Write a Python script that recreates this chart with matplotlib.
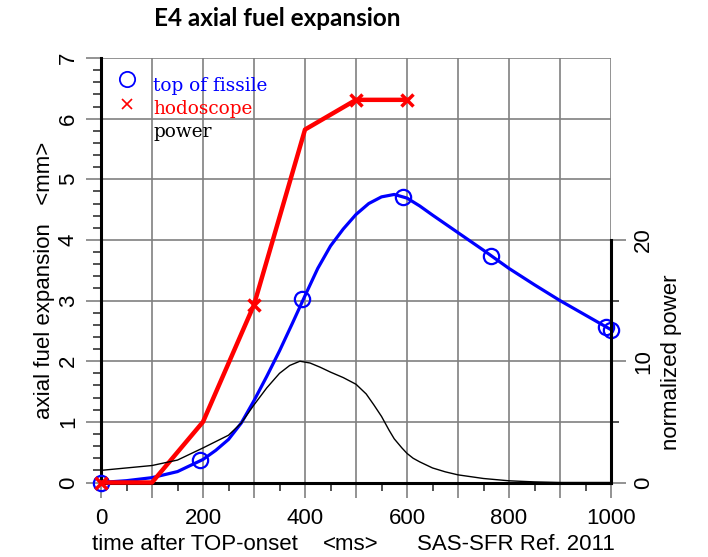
import numpy as np
import matplotlib
matplotlib.use("Agg")
import matplotlib.pyplot as plt
from matplotlib.ticker import MultipleLocator

# top of fissile: calculated curve (time in ms, expansion in mm)
fis_t = [0, 50, 100, 150, 200, 225, 250, 275, 300, 325, 350, 375, 400, 425,
         450, 475, 500, 525, 550, 575, 600, 625, 650, 700, 750, 800, 850,
         900, 950, 1000]
fis_y = [0.0, 0.03, 0.08, 0.18, 0.38, 0.53, 0.71, 0.98, 1.35, 1.75, 2.17,
         2.62, 3.08, 3.53, 3.9, 4.18, 4.42, 4.6, 4.71, 4.75, 4.69, 4.56,
         4.41, 4.12, 3.83, 3.53, 3.26, 3.0, 2.76, 2.52]
# circle markers on the fissile curve
fis_mark_t = [0, 195, 395, 593, 765, 990, 1000]
fis_mark_y = [0.0, 0.37, 3.03, 4.70, 3.74, 2.57, 2.52]

# hodoscope measurement
hodo_t = [0, 100, 200, 300, 400, 500, 600]
hodo_y = [0.0, 0.0, 1.0, 2.93, 5.82, 6.31, 6.31]
hodo_marks = [0, 3, 5, 6]

# normalized power
pow_t = [0, 50, 100, 150, 200, 250, 275, 300, 325, 350, 370, 390, 410, 430,
         450, 475, 500, 520, 535, 550, 565, 575, 590, 600, 612, 625, 650,
         675, 700, 750, 800, 850, 900, 1000]
pow_y = [1.0, 1.2, 1.4, 1.85, 2.85, 3.9, 4.9, 6.4, 7.8, 9.0, 9.65, 10.0,
         9.85, 9.5, 9.1, 8.65, 8.1, 7.3, 6.4, 5.45, 4.3, 3.6, 2.85, 2.4,
         2.0, 1.7, 1.2, 0.88, 0.63, 0.33, 0.14, 0.05, 0.0, 0.0]

fig = plt.figure(figsize=(7.08, 5.57), dpi=100)
ax = fig.add_axes([101 / 708, 1 - 482.5 / 557, 510 / 708, 424.5 / 557])
ax2 = ax.twinx()

sans = "Liberation Sans"
grid_c = "#808080"

# left axis: expansion in mm
ax.set_xlim(0, 1000)
ax.set_ylim(0, 7)
xt = list(range(0, 1001, 100))
ax.set_xticks(xt, labels=[str(t) if t % 200 == 0 else "" for t in xt])
ax.xaxis.set_minor_locator(MultipleLocator(50))
ax.yaxis.set_major_locator(MultipleLocator(1))
ax.yaxis.set_minor_locator(MultipleLocator(0.2))
ax.grid(True, which="major", color=grid_c, lw=1.2)

ax.tick_params(which="major", direction="out", length=11, width=1.2,
               color=grid_c, labelsize=16, pad=5)
ax.tick_params(which="minor", direction="out", length=6, width=1.2,
               color="#333333")
ax.tick_params(axis="x", which="major", pad=7)
ax.tick_params(axis="y", labelrotation=90)
for lbl in ax.get_yticklabels() + ax.get_xticklabels():
    lbl.set_fontfamily(sans)
for lbl in ax.get_yticklabels():
    lbl.set_va("center")

for side in ["top", "right"]:
    ax.spines[side].set_visible(False)
for side in ["left", "bottom"]:
    ax.spines[side].set_linewidth(2.2)
    ax.spines[side].set_color("black")

# curves
ax.plot(fis_t, fis_y, color="blue", lw=2.3, zorder=3,
        solid_joinstyle="round")
ax.plot(fis_mark_t, fis_mark_y, ls="none", marker="o", ms=11, mfc="none",
        mec="blue", mew=1.6, zorder=3, clip_on=False)
ax.plot(hodo_t, hodo_y, color="red", lw=3.2, marker="x", ms=9, mew=2.5,
        markevery=hodo_marks, zorder=4, clip_on=False)

# right axis: normalized power
ax2.set_ylim(0, 35)
ax2.set_yticks([0, 10, 20])
ax2.set_yticks([5, 15], minor=True)
ax2.plot(pow_t, pow_y, color="black", lw=1.0, zorder=2,
         solid_joinstyle="round")
ax2.tick_params(which="major", direction="out", length=11, width=1.2,
                color=grid_c, labelsize=16, pad=5, labelrotation=90)
ax2.tick_params(which="minor", direction="out", length=6, width=1.2,
                color="#333333")
for lbl in ax2.get_yticklabels():
    lbl.set_fontfamily(sans)
    lbl.set_va("center")
for side in ["top", "left", "bottom"]:
    ax2.spines[side].set_visible(False)
ax2.spines["right"].set_bounds(0, 20)
ax2.spines["right"].set_linewidth(2.2)

# legend written as text block
serif = "DejaVu Serif"
ax.plot([0.051], [0.9505], transform=ax.transAxes, marker="o", ms=11,
        mfc="none", mec="blue", mew=1.3, clip_on=False)
ax.plot([0.051], [0.8916], transform=ax.transAxes, marker="x", ms=7,
        mec="red", mew=1.2, clip_on=False)
ax.text(0.102, 0.923, "top of fissile", color="blue", family=serif,
        fontsize=13.3, transform=ax.transAxes, va="baseline")
ax.text(0.102, 0.868, "hodoscope", color="red", family=serif,
        fontsize=13.3, transform=ax.transAxes, va="baseline")
ax.text(0.102, 0.814, "power", color="black", family=serif,
        fontsize=13.3, transform=ax.transAxes, va="baseline")

# titles and axis labels
fig.text(277 / 708, 1 - 18 / 557, "E4 axial fuel expansion", family="Lato",
         fontweight="bold", fontsize=17.5, ha="center", va="center")
fig.text(45 / 708, 1 - 280 / 557, "axial fuel expansion   <mm>", family=sans,
         fontsize=16, rotation=90, ha="center", va="center")
fig.text(672 / 708, 1 - 362 / 557, "normalized power", family=sans,
         fontsize=16, rotation=90, ha="center", va="center")
fig.text(92 / 708, 1 - 545 / 557, "time after TOP-onset", family=sans,
         fontsize=16, ha="left", va="center")
fig.text(323 / 708, 1 - 545 / 557, "<ms>", family=sans,
         fontsize=16, ha="left", va="center")
fig.text(417 / 708, 1 - 545 / 557, "SAS-SFR Ref. 2011", family=sans,
         fontsize=16, ha="left", va="center")

fig.savefig("out.png", dpi=100)
